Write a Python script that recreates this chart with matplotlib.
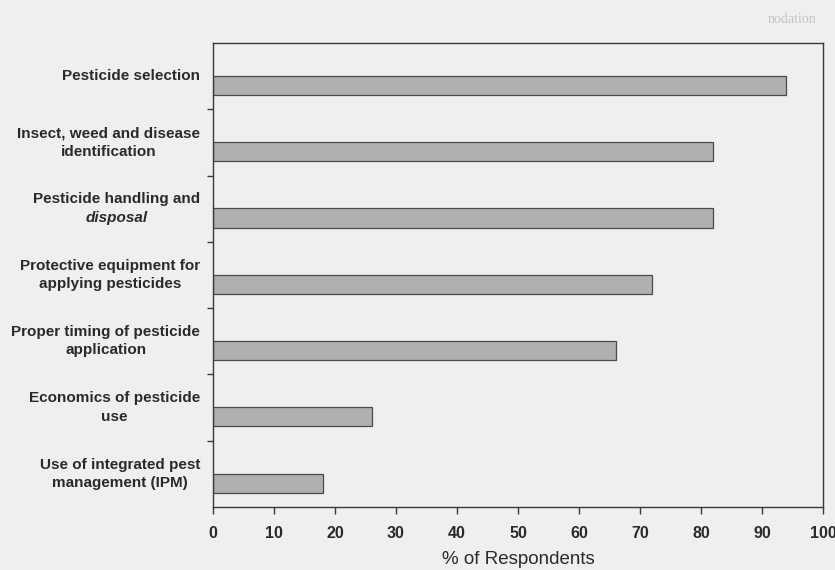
import matplotlib
matplotlib.use("Agg")
import matplotlib.pyplot as plt
from matplotlib import font_manager

categories = [
    "Pesticide selection",
    "Insect, weed and disease\nidentification",
    "Pesticide handling and\ndisposal",
    "Protective equipment for\napplying pesticides",
    "Proper timing of pesticide\napplication",
    "Economics of pesticide\nuse",
    "Use of integrated pest\nmanagement (IPM)",
]
values = [94, 82, 82, 72, 66, 26, 18]
xticks = [0, 10, 20, 30, 40, 50, 60, 70, 80, 90, 100]
xlabel = "% of Respondents"

bg = "#efefed"
fig = plt.figure(figsize=(8.35, 5.7), dpi=100, facecolor=bg)
ax = fig.add_axes([213/835, 1-507/570, (823-213)/835, (507-43)/570])
ax.set_facecolor(bg)

n = len(categories)
ypos = list(range(n))
bar_offset = 0.14
ax.barh([y + bar_offset for y in ypos], values, height=0.29,
        color="#b0b0ae", edgecolor="#4a4a4a", linewidth=0.9)

ax.set_xlim(0, 100)
ax.set_ylim(n - 0.5, -0.5)

for s in ax.spines.values():
    s.set_color("#3a3a3a")
    s.set_linewidth(1.0)

ax.set_yticks([i + 0.5 for i in range(n - 1)])
ax.set_yticklabels([])
ax.tick_params(axis="y", direction="out", length=4, color="#3a3a3a", width=1)

narrow = "Liberation Sans Narrow"
avail = {f.name for f in font_manager.fontManager.ttflist}
tickfam = [narrow, "Liberation Sans"] if narrow in avail else ["Liberation Sans"]
ax.set_xticks(xticks)
ax.set_xticklabels([str(t) for t in xticks], fontfamily=tickfam,
                   fontweight="bold", fontsize=11.5, color="#2a2a2a")
ax.tick_params(axis="x", direction="out", length=5, color="#3a3a3a", width=1, pad=9)
ax.set_xlabel(xlabel, fontfamily="Liberation Sans", fontsize=13.5, color="#2a2a2a", labelpad=7)

# category labels
fig.canvas.draw()
renderer = fig.canvas.get_renderer()
xr = -13 / 610  # axes fraction for right edge of labels
lab_fs = 11
for i, lab in enumerate(categories):
    lines = lab.split("\n")
    if i == 2:
        t1 = ax.text(xr, i - 0.14, lines[0], transform=ax.get_yaxis_transform(),
                     ha="right", va="center", fontfamily="Liberation Sans",
                     fontweight="bold", fontsize=lab_fs, color="#2a2a2a")
        fig.canvas.draw()
        bb = t1.get_window_extent(renderer)
        cx_disp = (bb.x0 + bb.x1) / 2
        cx_ax = ax.transAxes.inverted().transform((cx_disp, 0))[0]
        ax.text(cx_ax, i + 0.14, lines[1], transform=ax.get_yaxis_transform(),
                ha="center", va="center", fontfamily="Liberation Sans",
                fontweight="bold", fontstyle="italic", fontsize=lab_fs, color="#2a2a2a")
    else:
        ax.text(xr, i, lab, transform=ax.get_yaxis_transform(),
                ha="right", va="center", multialignment="center",
                fontfamily="Liberation Sans", fontweight="bold", fontsize=lab_fs,
                color="#2a2a2a", linespacing=1.4)

# faint scan artifact text at top right
fig.text(0.948, 0.965, "nodation", fontfamily="Liberation Serif", fontsize=10,
         color="#c4c4c4", ha="center", va="center")

fig.savefig("out.png", dpi=100, facecolor=bg)
